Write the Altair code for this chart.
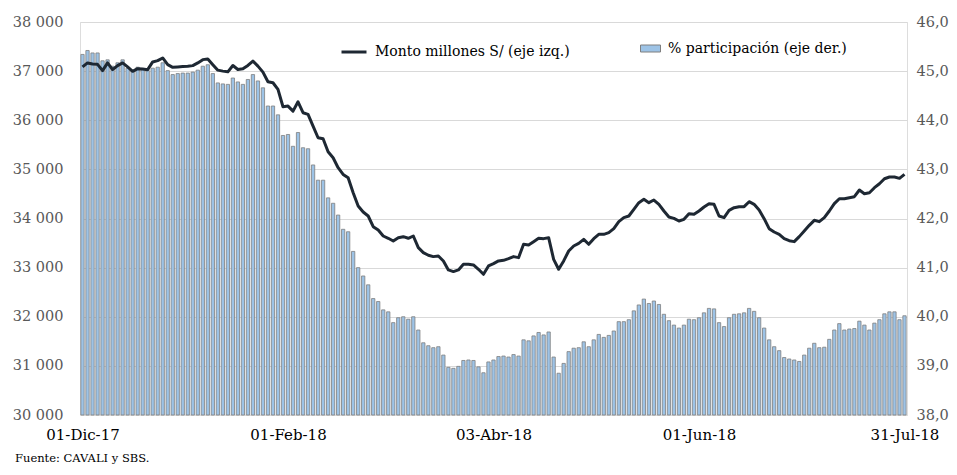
import altair as alt
import pandas as pd

# Category axis: 165 business days, labelled every 41 positions
x_labels = {0: "01-Dic-17", 41: "01-Feb-18", 82: "03-Abr-18", 123: "01-Jun-18", 164: "31-Jul-18"}

# Monto millones S/ (left axis)
monto = [
    37085, 37167, 37146, 37138, 37010, 37167, 37030, 37112, 37167, 37085,
    36996, 37050, 37044, 37030, 37187, 37213, 37268, 37132, 37077, 37085,
    37092, 37098, 37112, 37167, 37234, 37248, 37132,
    37020, 37000, 36986, 37115, 37034, 37047, 37115, 37203, 37102, 36980,
    36783, 36763, 36627, 36275, 36288, 36186, 36376, 36153, 36119, 35881,
    35644, 35624, 35359, 35237, 35034, 34898, 34830, 34525, 34254, 34132,
    34051, 33834, 33766, 33644, 33597, 33542, 33610, 33630, 33597, 33644,
    33407, 33305, 33251, 33224, 33237, 33136, 32953, 32919, 32953, 33068,
    33068, 33054, 32966, 32864, 33034, 33081, 33136, 33149, 33183, 33224,
    33203, 33475, 33461, 33529, 33597, 33590, 33610, 33169, 32966, 33136,
    33339, 33441, 33495, 33576, 33475, 33590, 33678, 33678, 33712, 33793,
    33936, 34017, 34051, 34186, 34322,
    34390, 34322, 34376, 34288, 34153, 34030, 34003, 33949, 33983, 34098,
    34085, 34153, 34234, 34302, 34288, 34051, 34017, 34166, 34220, 34241,
    34241, 34342, 34288, 34173, 33997, 33793, 33725, 33678, 33590, 33549,
    33529, 33631, 33746, 33861, 33963, 33936, 34017, 34153, 34302, 34403,
    34403, 34424, 34444, 34580, 34505, 34525, 34627, 34708, 34810, 34844,
    34844, 34817, 34898,
]

# % participación (right axis)
participacion = [
    45.34, 45.42, 45.37, 45.37, 45.21, 45.23, 45.10, 45.17, 45.23, 45.06,
    45.00, 45.08, 45.03, 45.01, 45.06, 45.08, 45.17, 45.01, 44.93, 44.95,
    44.96, 44.96, 44.98, 45.02, 45.10, 45.13, 44.95, 44.76,
    44.74, 44.73, 44.86, 44.78, 44.73, 44.83, 44.93, 44.80, 44.66, 44.29,
    44.29, 44.11, 43.69, 43.71, 43.47, 43.75, 43.44, 43.42, 43.09, 42.78,
    42.78, 42.42, 42.31, 42.07, 41.78, 41.73, 41.33, 41.00, 40.83,
    40.65, 40.37, 40.31, 40.14, 40.10, 39.88, 39.98, 40.00, 39.95, 40.00,
    39.73, 39.47, 39.41, 39.37, 39.39, 39.22, 38.97, 38.95, 38.99, 39.11,
    39.12, 39.11, 38.98, 38.86, 39.08, 39.12, 39.19, 39.20, 39.18, 39.23,
    39.20, 39.53, 39.51, 39.61, 39.68, 39.63, 39.69, 39.18, 38.85, 39.05,
    39.29, 39.36, 39.37, 39.49, 39.39, 39.53, 39.64, 39.58, 39.62, 39.71,
    39.90, 39.90, 39.94,
    40.12, 40.24, 40.36, 40.27, 40.32, 40.25, 40.05, 39.92, 39.83, 39.77,
    39.83, 39.95, 39.94, 39.98, 40.08, 40.17, 40.16, 39.88, 39.80, 39.98,
    40.05, 40.06, 40.08, 40.17, 40.11, 39.98, 39.77, 39.53, 39.39, 39.31,
    39.17, 39.14, 39.12, 39.09, 39.22, 39.36, 39.46, 39.37, 39.38, 39.54,
    39.73, 39.86, 39.73, 39.75, 39.76, 39.91, 39.83, 39.73, 39.87, 39.94,
    40.06, 40.10, 40.10, 39.94, 40.02,
]

serie_line = "Monto millones S/ (eje izq.)"
serie_bar = "% participación (eje der.)"
fuente = "Fuente: CAVALI y SBS."

n = len(monto)
df = pd.DataFrame({
    "i": list(range(n)),
    "monto": monto,
    "pct": participacion[:n],
    "s_line": [serie_line] * n,
    "s_bar": [serie_bar] * n,
})

FONT = "DejaVu Serif"

label_expr = " : ".join(
    [f"datum.value == {k} ? '{v}'" for k, v in x_labels.items()]
) + " : ''"

x_enc = alt.X(
    "i:Q",
    scale=alt.Scale(domain=[-0.5, n - 0.5], nice=False, zero=False, padding=0),
    axis=alt.Axis(
        values=list(x_labels.keys()), labelExpr=label_expr, title=None,
        grid=False, ticks=False, domain=False, labelFlush=False,
        labelFont=FONT, labelFontSize=15, labelColor="#000000", labelPadding=12,
    ),
)

bars = alt.Chart(df).mark_bar(
    size=3.3, stroke="#7f7f7f", strokeWidth=0.8
).encode(
    x=x_enc,
    y=alt.Y(
        "pct:Q",
        scale=alt.Scale(domain=[38, 46], nice=False, zero=False),
        axis=alt.Axis(
            orient="right", values=[38, 39, 40, 41, 42, 43, 44, 45, 46],
            labelExpr="replace(format(datum.value, '.1f'), '.', ',')",
            title=None, grid=False, ticks=False, domain=False,
            labelFont=FONT, labelFontSize=14.5, labelColor="#595959", labelPadding=9,
        ),
    ),
    y2=alt.datum(38),
    fill=alt.Fill(
        "s_bar:N",
        scale=alt.Scale(domain=[serie_bar], range=["#9dc3e6"]),
        legend=alt.Legend(
            orient="none", legendX=560, legendY=16, title=None, padding=0,
            symbolType="M-1,-0.35H1V0.35H-1Z", symbolSize=400,
            symbolStrokeColor="#7f7f7f", symbolStrokeWidth=1,
            labelFont=FONT, labelFontSize=14, labelColor="#000000", labelOffset=7,
            labelLimit=400,
        ),
    ),
)

line = alt.Chart(df).mark_line(strokeWidth=3, strokeJoin="round").encode(
    x=alt.X("i:Q"),
    y=alt.Y(
        "monto:Q",
        scale=alt.Scale(domain=[30000, 38000], nice=False, zero=False),
        axis=alt.Axis(
            orient="left", values=list(range(30000, 38001, 1000)),
            labelExpr="replace(format(datum.value, ','), ',', ' ')",
            title=None, grid=True, gridColor="#d9d9d9", gridWidth=1,
            ticks=False, domain=False,
            labelFont=FONT, labelFontSize=14.5, labelColor="#595959", labelPadding=17,
        ),
    ),
    stroke=alt.Stroke(
        "s_line:N",
        scale=alt.Scale(domain=[serie_line], range=["#1e2833"]),
        legend=alt.Legend(
            orient="none", legendX=260, legendY=16, title=None, padding=0,
            symbolType="stroke", symbolSize=625, symbolStrokeWidth=3,
            labelFont=FONT, labelFontSize=14, labelColor="#000000", labelOffset=7,
            labelLimit=400,
        ),
    ),
)

note = alt.Chart(pd.DataFrame({"t": [fuente]})).mark_text(
    align="left", baseline="middle", font=FONT, fontSize=11.5, color="#000000"
).encode(text="t:N", x=alt.value(-65), y=alt.value(437))

chart = alt.layer(bars, line, note).resolve_scale(
    y="independent", fill="independent", stroke="independent"
).properties(
    width=827, height=393,
    autosize=alt.AutoSizeParams(type="none"),
    padding={"left": 72, "top": 14, "right": 42, "bottom": 52},
).configure_view(stroke=None).configure(background="white")

chart.save("out.html", embed_options={"renderer": "svg", "actions": False})
